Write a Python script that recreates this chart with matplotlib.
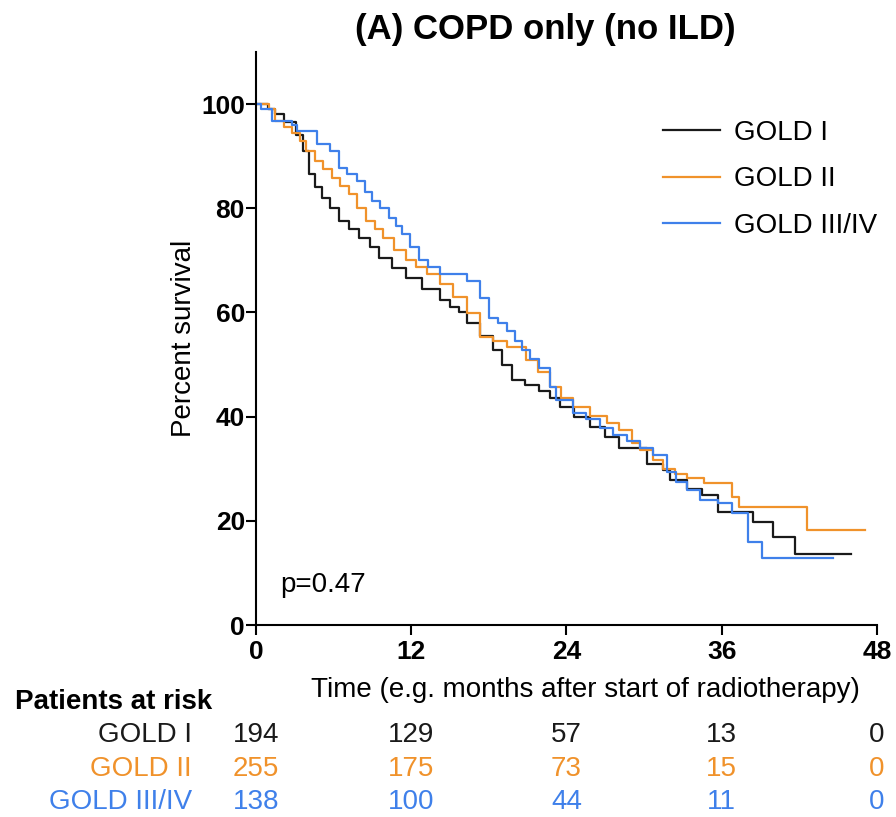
import matplotlib
matplotlib.use('Agg')
import matplotlib.pyplot as plt
from matplotlib.transforms import blended_transform_factory

plt.rcParams['font.family'] = ['Liberation Sans', 'DejaVu Sans']

# Kaplan-Meier curves (time in months, survival in %)
gold1_t = [0, 0.9, 1.5, 2.2, 3.1, 3.6, 4.1, 4.6, 5.1, 5.7, 6.4, 7.2, 8.0, 8.8, 9.5, 10.5,
           11.6, 12.8, 14.2, 15.0, 15.7, 16.3, 17.3, 18.3, 19.0, 19.8, 20.8, 21.9, 22.7,
           23.5, 24.6, 25.8, 27.0, 28.1, 30.2, 31.5, 32.0, 33.3, 34.5, 35.7, 38.4, 40.0,
           41.7, 46.0]
gold1_s = [100, 99, 98, 96.5, 94, 91, 86.6, 84, 82, 80, 77.6, 76, 74.3, 72.5, 70.5, 68.5,
           66.7, 64.5, 62.3, 61, 60, 57.9, 55.5, 52.7, 50, 47, 46, 45, 43.5,
           41.8, 40, 38, 36, 34, 31, 29.7, 27.8, 26.2, 25, 21.7, 19.7, 16.9,
           13.6, 13.6]

gold2_t = [0, 1.0, 1.5, 2.2, 2.8, 3.4, 3.9, 4.6, 5.2, 5.9, 6.5, 7.2, 7.8, 8.5, 9.2, 9.8,
           10.7, 11.6, 12.4, 13.2, 14.2, 15.2, 16.3, 17.3, 18.3, 19.4, 20.9, 21.8, 22.7,
           23.6, 24.5, 25.8, 27.1, 28.1, 29.1, 29.7, 30.7, 31.5, 32.4, 33.3, 34.6, 36.8,
           37.3, 42.6, 47.1]
gold2_s = [100, 99, 96.7, 95.5, 94.4, 93, 91, 89, 87.5, 85.8, 84.2, 82.7, 80, 77.6, 76, 74.3,
           72, 70, 68.7, 67.4, 65.5, 63, 59.8, 55.2, 54.5, 53.3, 50.8, 48.5, 45.6,
           43.5, 41.8, 40.2, 38.7, 37.4, 35, 33.5, 31.6, 30, 29, 28.2, 27.2, 24.5,
           22.6, 18.2, 18.2]

gold3_t = [0, 0.4, 1.2, 2.8, 3.2, 4.7, 5.7, 6.4, 7.0, 7.8, 8.4, 9.0, 9.6, 10.3, 10.8, 11.3,
           11.9, 12.6, 13.3, 14.2, 16.3, 17.3, 18.0, 18.7, 19.4, 20.0, 20.6, 21.2, 21.9,
           22.7, 23.2, 24.5, 25.5, 26.6, 27.6, 28.7, 29.7, 30.7, 31.8, 32.5, 33.3, 34.3,
           35.7, 36.8, 38.0, 39.1, 44.6]
gold3_s = [100, 99, 96.7, 96, 94.8, 92.3, 91, 87.7, 86.6, 85.2, 83.2, 81.4, 80, 78.2, 76.5, 75,
           72.5, 70, 68.8, 67.4, 66, 62.8, 59, 58, 56.5, 54.5, 52.7, 51, 49.4,
           45.6, 43.1, 40.6, 39.5, 37.9, 36.5, 35.4, 34, 32.6, 29.3, 27.5, 25.9, 24,
           23.4, 21.5, 15.9, 12.8, 12.8]

groups = ['GOLD I', 'GOLD II', 'GOLD III/IV']
colors = ['#1a1a1a', '#F0922B', '#3F80EA']

# patients at risk table
risk_times = [0, 12, 24, 36, 48]
risk_gold1 = [194, 129, 57, 13, 0]
risk_gold2 = [255, 175, 73, 15, 0]
risk_gold3 = [138, 100, 44, 11, 0]

fig = plt.figure(figsize=(8.96, 8.17), dpi=100)
ax = fig.add_axes([0.2857, 0.235, 0.693, 0.7014])

curves = [(gold1_t, gold1_s), (gold2_t, gold2_s), (gold3_t, gold3_s)]
for (t, s), name, c in zip(curves, groups, colors):
    ax.step(t, s, where='post', color=c, lw=1.6, label=name)

ax.set_xlim(0, 48)
ax.set_ylim(0, 110)
ax.set_xticks(risk_times)
ax.set_yticks([0, 20, 40, 60, 80, 100])
ax.spines['top'].set_visible(False)
ax.spines['right'].set_visible(False)
for sp in ['left', 'bottom']:
    ax.spines[sp].set_linewidth(1.5)
ax.tick_params(width=1.5, length=7, labelsize=19)
ax.tick_params(axis='y', pad=1)
ax.tick_params(axis='x', pad=4)
for lab in ax.get_xticklabels() + ax.get_yticklabels():
    lab.set_fontweight('bold')

ax.set_ylabel('Percent survival', fontsize=20, labelpad=3)

ax.legend(loc='upper right', bbox_to_anchor=(1.0, 0.881), frameon=False, fontsize=20,
          handlelength=2.05, handletextpad=0.5, labelspacing=0.73, borderpad=0,
          borderaxespad=0)

fig.text(280 / 896, 1 - 585 / 817, 'p=0.47', fontsize=20, va='center', ha='left')

fig.text(545 / 896, 1 - 30 / 817, '(A) COPD only (no ILD)', fontsize=25, fontweight='bold',
         ha='center', va='center')
fig.text(585 / 896, 1 - 690 / 817, 'Time (e.g. months after start of radiotherapy)',
         fontsize=20, ha='center', va='center')

fig.text(15 / 896, 1 - 702 / 817, 'Patients at risk', fontsize=20, fontweight='bold',
         ha='left', va='center')
trans = blended_transform_factory(ax.transData, fig.transFigure)
rows = [risk_gold1, risk_gold2, risk_gold3]
row_y = [735, 769, 802]
for name, vals, c, y in zip(groups, rows, colors, row_y):
    fig.text(192 / 896, 1 - y / 817, name, fontsize=20, color=c, ha='right', va='center')
    for t, v in zip(risk_times, vals):
        ax.text(t, 1 - y / 817, str(v), fontsize=20, color=c, ha='center', va='center',
                transform=trans)

fig.savefig('out.png', dpi=100)
